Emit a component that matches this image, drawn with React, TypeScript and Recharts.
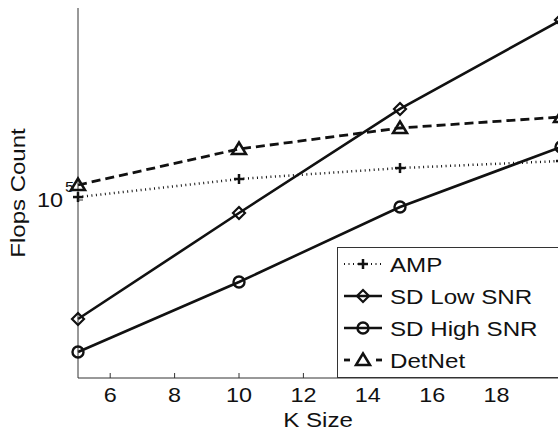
import React from 'react';
import { LineChart, Line, XAxis, YAxis } from 'recharts';

const kSizes = [5, 10, 15, 20];
const ampFlops = [102300, 117500, 127800, 134900];
const sdLowFlops = [40120, 90500, 201100, 398100];
const sdHighFlops = [31150, 53300, 94800, 150200];
const detNetFlops = [112200, 147900, 173800, 189100];
const xTicks = [6, 8, 10, 12, 14, 16, 18];
const yTicks = [100000];
const legendLabels = ['AMP', 'SD Low SNR', 'SD High SNR', 'DetNet'];

const data = kSizes.map((k, i) => ({
  k,
  amp: ampFlops[i],
  sdLow: sdLowFlops[i],
  sdHigh: sdHighFlops[i],
  detNet: detNetFlops[i],
}));

const FONT = '"Liberation Sans", Arial, Helvetica, sans-serif';
const INK = '#111';
const AXIS = '#333';

const plusShape = (cx: number, cy: number, key?: any) => (
  <g key={key}>
    <line x1={cx - 5} x2={cx + 5} y1={cy} y2={cy} stroke={INK} strokeWidth={2.5} />
    <line x1={cx} x2={cx} y1={cy - 5} y2={cy + 5} stroke={INK} strokeWidth={2.5} />
  </g>
);
const diamondShape = (cx: number, cy: number, key?: any) => (
  <polygon
    key={key}
    points={`${cx},${cy - 6} ${cx + 6},${cy} ${cx},${cy + 6} ${cx - 6},${cy}`}
    fill="none"
    stroke={INK}
    strokeWidth={2.2}
  />
);
const circleShape = (cx: number, cy: number, key?: any) => (
  <circle key={key} cx={cx} cy={cy} r={5.5} fill="none" stroke={INK} strokeWidth={2.4} />
);
const triangleShape = (cx: number, cy: number, key?: any) => (
  <polygon
    key={key}
    points={`${cx},${cy - 6.5} ${cx + 7},${cy + 5} ${cx - 7},${cy + 5}`}
    fill="none"
    stroke={INK}
    strokeWidth={2.5}
    strokeLinejoin="miter"
  />
);

const makeDot = (shape: (cx: number, cy: number, key?: any) => any) => (props: any) => {
  const { cx, cy, index } = props;
  if (cx == null || cy == null) return <g key={`n${index}`} />;
  return shape(cx, cy, `d${index}`);
};

const XTickBottom = (props: any) => {
  const { x, y, payload } = props;
  return (
    <g>
      <line x1={x} x2={x} y1={y} y2={y - 5} stroke={AXIS} strokeWidth={1} />
      <text
        transform={`translate(${x},${y + 24}) scale(1.17,1)`}
        textAnchor="middle"
        fontSize={20}
        fontFamily={FONT}
        fill={INK}
      >
        {payload.value}
      </text>
    </g>
  );
};

const XTickTop = (props: any) => {
  const { x, y } = props;
  return <line x1={x} x2={x} y1={y} y2={y + 5} stroke={AXIS} strokeWidth={1} />;
};

const YTickLeft = (props: any) => {
  const { x, y } = props;
  return (
    <g>
      <line x1={x} x2={x + 5} y1={y} y2={y} stroke={AXIS} strokeWidth={1} />
      <text
        transform={`translate(${x - 15},${y + 7}) scale(1.17,1)`}
        textAnchor="end"
        fontSize={20}
        fontFamily={FONT}
        fill={INK}
      >
        10
      </text>
      <text
        transform={`translate(${x - 13},${y - 8}) scale(1.17,1)`}
        textAnchor="start"
        fontSize={14}
        fontFamily={FONT}
        fill={INK}
      >
        5
      </text>
    </g>
  );
};

const YTickRight = (props: any) => {
  const { x, y } = props;
  return <line x1={x} x2={x - 5} y1={y} y2={y} stroke={AXIS} strokeWidth={1} />;
};

export default function App() {
  const legendBaselines = [272, 304, 336, 368];
  const legendShapes = [plusShape, diamondShape, circleShape, triangleShape];
  return (
    <div
      style={{
        position: 'absolute',
        left: 0,
        top: 0,
        width: 558,
        height: 429,
        overflow: 'hidden',
        background: '#fff',
      }}
    >
      <LineChart
        width={600}
        height={429}
        data={data}
        margin={{ top: 8, right: 39, bottom: 0, left: 0 }}
      >
        <XAxis
          dataKey="k"
          type="number"
          domain={[5, 20]}
          ticks={xTicks}
          height={51}
          tickSize={0}
          tickMargin={0}
          tickLine={false}
          axisLine={{ stroke: AXIS, strokeWidth: 1 }}
          tick={<XTickBottom />}
        />
        <XAxis
          xAxisId="top"
          orientation="top"
          dataKey="k"
          type="number"
          domain={[5, 20]}
          ticks={xTicks}
          height={0}
          tickSize={0}
          tickMargin={0}
          tickLine={false}
          axisLine={{ stroke: AXIS, strokeWidth: 1 }}
          tick={<XTickTop />}
        />
        <YAxis
          scale="log"
          type="number"
          domain={[25510, 436500]}
          ticks={yTicks}
          width={78}
          tickSize={0}
          tickMargin={0}
          tickLine={false}
          axisLine={{ stroke: AXIS, strokeWidth: 1 }}
          tick={<YTickLeft />}
        />
        <YAxis
          yAxisId="right"
          orientation="right"
          scale="log"
          type="number"
          domain={[25510, 436500]}
          ticks={yTicks}
          width={0}
          tickSize={0}
          tickMargin={0}
          tickLine={false}
          axisLine={{ stroke: AXIS, strokeWidth: 1 }}
          tick={<YTickRight />}
        />
        <Line
          dataKey="amp"
          stroke={INK}
          strokeWidth={2.5}
          strokeDasharray="1 3.5"
          dot={makeDot(plusShape)}
          isAnimationActive={false}
        />
        <Line
          dataKey="sdLow"
          stroke={INK}
          strokeWidth={2.6}
          dot={makeDot(diamondShape)}
          isAnimationActive={false}
        />
        <Line
          dataKey="sdHigh"
          stroke={INK}
          strokeWidth={2.6}
          dot={makeDot(circleShape)}
          isAnimationActive={false}
        />
        <Line
          dataKey="detNet"
          stroke={INK}
          strokeWidth={2.8}
          strokeDasharray="9 5"
          dot={makeDot(triangleShape)}
          isAnimationActive={false}
        />
      </LineChart>
      <svg
        width={558}
        height={429}
        style={{ position: 'absolute', left: 0, top: 0, pointerEvents: 'none' }}
      >
        <text
          transform="translate(25,193) rotate(-90) scale(1.2,1)"
          textAnchor="middle"
          fontSize={20}
          fontFamily={FONT}
          fill={INK}
        >
          Flops Count
        </text>
        <text
          transform="translate(318,427) scale(1.15,1)"
          textAnchor="middle"
          fontSize={21}
          fontFamily={FONT}
          fill={INK}
        >
          K Size
        </text>
        <rect x={337.5} y={247.5} width={230} height={130} fill="#fff" stroke={AXIS} strokeWidth={1} />
        {legendLabels.map((label, i) => {
          const cy = legendBaselines[i] - 8;
          let sample: any;
          if (i === 0) {
            sample = (
              <line x1={344} x2={382} y1={cy} y2={cy} stroke={INK} strokeWidth={2.2} strokeDasharray="1 3.5" />
            );
          } else if (i === 3) {
            sample = (
              <g>
                <line x1={344} x2={350} y1={cy} y2={cy} stroke={INK} strokeWidth={2.8} />
                <line x1={376} x2={382} y1={cy} y2={cy} stroke={INK} strokeWidth={2.8} />
              </g>
            );
          } else {
            sample = <line x1={344} x2={382} y1={cy} y2={cy} stroke={INK} strokeWidth={2.6} />;
          }
          return (
            <g key={label}>
              {sample}
              {legendShapes[i](363, cy)}
              <text
                transform={`translate(390,${legendBaselines[i]}) scale(1.15,1)`}
                fontSize={21}
                fontFamily={FONT}
                fill={INK}
              >
                {label}
              </text>
            </g>
          );
        })}
      </svg>
    </div>
  );
}
